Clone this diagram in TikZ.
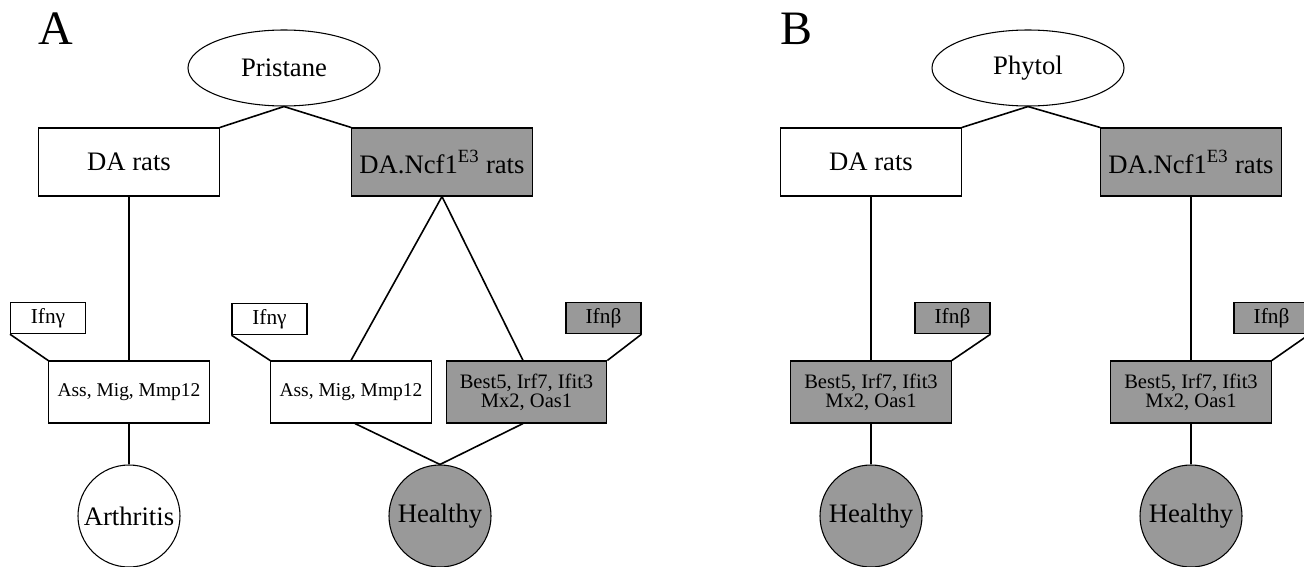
\documentclass[tikz,border=0pt]{standalone}
\usepackage{fontspec}
\setmainfont{Liberation Serif}
\usetikzlibrary{shapes.geometric}
\definecolor{fillgray}{RGB}{153,153,153}
\begin{document}
\begin{tikzpicture}[x=0.75pt,y=-0.75pt,
 every node/.style={inner sep=0pt, line width=0.8pt},
 big/.style={font=\fontsize{20}{22}\selectfont},
 small/.style={font=\fontsize{14.6}{14.3}\selectfont, align=center},
 bestfont/.style={font=\fontsize{15.4}{14.3}\selectfont, align=center},
 ifnfont/.style={font=\fontsize{16}{17}\selectfont},
 bigbox/.style={draw, rectangle, big, minimum width=135.5pt, minimum height=51pt},
 genebox/.style={draw, rectangle, small, minimum width=120.5pt, minimum height=46.5pt},
 bestbox/.style={genebox, bestfont},
 ifnbox/.style={draw, rectangle, ifnfont, minimum width=56.25pt, minimum height=23.5pt},
 oval/.style={draw, ellipse, big, minimum width=144pt, minimum height=57pt},
 outcome/.style={draw, circle, big, minimum size=76.5pt},
 grey/.style={fill=fillgray},
 link/.style={line width=1.2pt},
 panel/.style={font=\fontsize{36}{40}\selectfont, anchor=base}]
\clip (0,0) rectangle (1304,567);
\fill[white] (0,0) rectangle (1304,567);

% ---------- Panel A ----------
\node[panel] (labA) at (55.5,45) {A};
\node[oval] (pristane) at (284,68) {Pristane};
\node[bigbox] (darA) at (129,162) {DA rats};
\node[bigbox, grey] (ncfA) at (442,162) {DA.Ncf1\textsuperscript{E3} rats};
\node[ifnbox] (ifngA1) at (48,318) {Ifnγ};
\node[genebox] (assA1) at (129,392) {Ass, Mig, Mmp12};
\node[outcome] (arth) at (129,516) {Arthritis};
\node[ifnbox] (ifngA2) at (269.5,319) {Ifnγ};
\node[genebox] (assA2) at (351,392) {Ass, Mig, Mmp12};
\node[bestbox, grey] (bestA) at (526.5,392) {Best5, Irf7, Ifit3\\Mx2, Oas1};
\node[ifnbox, grey] (ifnbA) at (603.5,318) {Ifnβ};
\node[outcome, grey] (healthyA) at (440,516) {Healthy};

\draw[link] (pristane.south) -- (darA.north east);
\draw[link] (pristane.south) -- (ncfA.north west);
\draw[link] (darA.south) -- (assA1.north);
\draw[link] (assA1.south) -- (arth.north);
\draw[link] (ifngA1.south west) -- (assA1.north west);
\draw[link] (ncfA.south) -- (assA2.north);
\draw[link] (ncfA.south) -- ([xshift=-2.6pt]bestA.north);
\draw[link] (ifngA2.south west) -- (assA2.north west);
\draw[link] (ifnbA.south east) -- (bestA.north east);
\draw[link] ([xshift=3pt]assA2.south) -- (healthyA.north);
\draw[link] ([xshift=-2.6pt]bestA.south) -- (healthyA.north);

% ---------- Panel B ----------
\node[panel] (labB) at (797,45) {B};
\node[oval] (phytol) at (1028,68) {Phytol};
\node[bigbox] (darB) at (871,162) {DA rats};
\node[bigbox, grey] (ncfB) at (1191,162) {DA.Ncf1\textsuperscript{E3} rats};
\node[bestbox, grey] (bestB1) at (871,392) {Best5, Irf7, Ifit3\\Mx2, Oas1};
\node[ifnbox, grey] (ifnbB1) at (952.5,318) {Ifnβ};
\node[outcome, grey] (healthyB1) at (871,516) {Healthy};
\node[bestbox, grey] (bestB2) at (1191,392) {Best5, Irf7, Ifit3\\Mx2, Oas1};
\node[ifnbox, grey] (ifnbB2) at (1271.5,318) {Ifnβ};
\node[outcome, grey] (healthyB2) at (1191,516) {Healthy};

\draw[link] (phytol.south) -- (darB.north east);
\draw[link] (phytol.south) -- (ncfB.north west);
\draw[link] (darB.south) -- (bestB1.north);
\draw[link] (bestB1.south) -- (healthyB1.north);
\draw[link] (ifnbB1.south east) -- (bestB1.north east);
\draw[link] (ncfB.south) -- (bestB2.north);
\draw[link] (bestB2.south) -- (healthyB2.north);
\draw[link] (ifnbB2.south east) -- (bestB2.north east);
\end{tikzpicture}
\end{document}
